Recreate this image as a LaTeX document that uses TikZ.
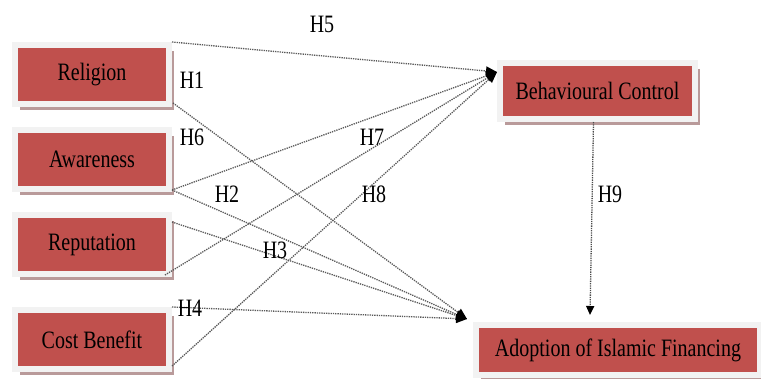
\documentclass[tikz,border=0pt]{standalone}
\usepackage{fontspec}
\setmainfont{Liberation Serif}[FakeStretch=0.8]
\usetikzlibrary{arrows.meta,shadows,calc}
\definecolor{boxred}{HTML}{C0504D}
\definecolor{framegray}{HTML}{F2F2F2}
\definecolor{shadowcol}{HTML}{B99A9A}
\begin{document}
\begin{tikzpicture}[x=1pt,y=-1pt,
  box/.style={fill=boxred, draw=framegray, line width=6pt, inner sep=0pt,
    font=\fontsize{25}{30}\selectfont,
    drop shadow={shadow xshift=4.5pt, shadow yshift=-6pt, fill=shadowcol, opacity=1}},
  lbox/.style={box, minimum width=154pt, minimum height=59pt},
  hlab/.style={inner sep=0pt, font=\fontsize{25}{30}\selectfont},
  link/.style={densely dotted, line width=1.3pt, draw=black!65,
    -{Triangle[length=11pt,width=9pt,color=black,fill=black]}},
  vlink/.style={densely dotted, line width=1.3pt, draw=black!70,
    -{Triangle[length=9pt,width=8pt,color=black,fill=black]}}]
\useasboundingbox (0,0) rectangle (761,378);
\node[lbox] (rel) at (92,74.5) {Religion};
\node[lbox] (aw) at (92,159.5) {Awareness};
\node[lbox] (rep) at (92,244.5) {Reputation};
\node[lbox] (cb) at (92,339.5) {Cost Benefit};
\node[box, minimum width=195pt, minimum height=56pt] (bc) at (597.5,91) {Behavioural Control};
\node[box, minimum width=284pt, minimum height=50pt] (ad) at (618,350) {Adoption of Islamic Financing};
\coordinate (bctip) at ($(bc.north west)+(0,12)$);
\coordinate (adtip) at ($(ad.north west)+(-6,-3)$);
% links to Behavioural Control
\draw[link] (rel.north east) -- (bctip);
\draw[link] ($(aw.south east)+(0,-2)$) -- (bctip);
\draw[link] ($(rep.south east)+(-7,-2)$) -- (bctip);
\draw[link] ($(cb.south east)+(0,-6)$) -- (bctip);
% links to Adoption
\draw[link] ($(rel.south east)+(1,-4)$) -- (adtip);
\draw[link] ($(aw.south east)+(0,-2)$) -- (adtip);
\draw[link] ($(rep.north east)+(0,10)$) -- (adtip);
\draw[link] (cb.north east) -- (adtip);
% H9
\draw[vlink] ($(bc.south)+(-4,0)$) -- ($(ad.north west)+(117,-7)$);
% labels
\node[hlab] (h5) at (322,24) {H5};
\node[hlab] (h1) at (192,80) {H1};
\node[hlab] (h6) at (192,137) {H6};
\node[hlab] (h7) at (372,137) {H7};
\node[hlab] (h2) at (227,194) {H2};
\node[hlab] (h8) at (374,194) {H8};
\node[hlab] (h3) at (275,250) {H3};
\node[hlab] (h4) at (190,308) {H4};
\node[hlab] (h9) at (610,194) {H9};
\end{tikzpicture}
\end{document}
